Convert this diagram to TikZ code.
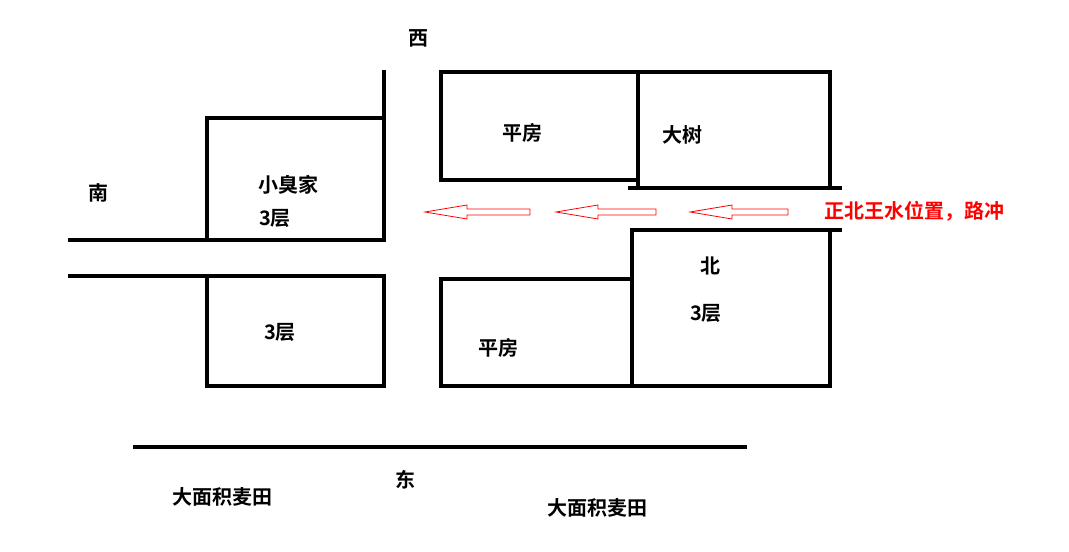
\documentclass[tikz,border=0pt]{standalone}
\usepackage{fontspec}
\newfontfamily\cjk{Noto Sans CJK SC}[BoldFont={Noto Sans CJK SC Bold}]
\begin{document}
\begin{tikzpicture}[x=0.75pt,y=-0.75pt,
  wall/.style={line width=3pt,line cap=rect},
  lbl/.style={font=\cjk\bfseries\fontsize{15}{17}\selectfont,inner sep=0pt},
  harrow/.style={draw=red,line width=0.6pt,fill=white}]
\useasboundingbox[fill=white] (0,0) rectangle (1069,551);
\draw[wall] (384,72) -- (384,240) -- (207,240) -- (207,118) -- (384,118);
\draw[wall] (70,240) -- (207,240);
\draw[wall] (70,276) -- (384,276) -- (384,386) -- (207,386) -- (207,276);
\draw[wall] (441,72) rectangle (638,180);
\draw[wall] (638,72) -- (830,72) -- (830,188);
\draw[wall] (638,72) -- (638,188);
\draw[wall] (630,188) -- (840,188);
\draw[wall] (441,279) rectangle (632,386);
\draw[wall] (632,386) -- (830,386) -- (830,230);
\draw[wall] (632,386) -- (632,230) -- (840,230);
\draw[wall] (135,447) -- (745,447);
\foreach \t/\e in {425/530,556/656,690/788}{
  \draw[harrow] (\t,212) -- (\t+42,205) -- (\t+42,209) -- (\e,209) -- (\e,215) -- (\t+42,215) -- (\t+42,219) -- cycle;
}
\node[lbl] (w) at (418,38) {西};
\node[lbl] (s) at (98,193) {南};
\node[lbl] (a) at (288,185) {小臭家};
\node[lbl] (b) at (275,218) {3层};
\node[lbl] (c) at (280,332) {3层};
\node[lbl] (d) at (522,133) {平房};
\node[lbl] (e) at (682,135) {大树};
\node[lbl] (n) at (710,266) {北};
\node[lbl] (f) at (706,313) {3层};
\node[lbl] (g) at (498,348) {平房};
\node[lbl] (east) at (405,480) {东};
\node[lbl] (h) at (222,497) {大面积麦田};
\node[lbl] (i) at (597,508) {大面积麦田};
\node[lbl,text=red,anchor=west] (r) at (824,211) {正北王水位置，路冲};
\end{tikzpicture}
\end{document}
